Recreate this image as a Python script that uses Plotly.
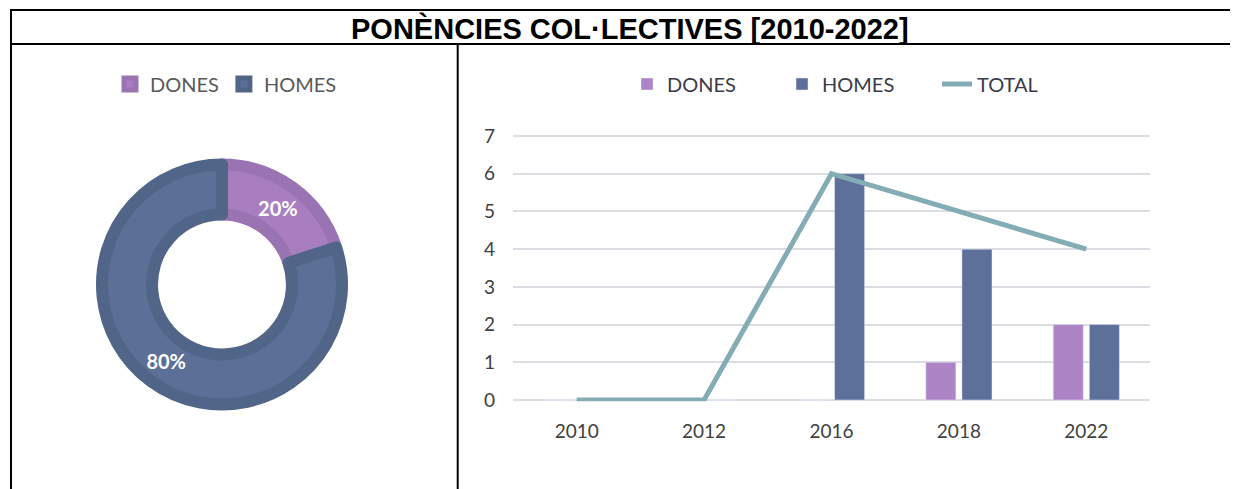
import plotly.graph_objects as go

W, H = 1238, 489
OFF = 8  # page body margin of the exported html

# ---- data ----
years = ["2010", "2012", "2016", "2018", "2022"]
dones = [0, 0, 0, 1, 2]
homes = [0, 0, 6, 4, 2]
total = [0, 0, 6, 5, 4]
pie_labels = ["DONES", "HOMES"]
pie_values = [sum(dones), sum(homes)]
title_text = "PONÈNCIES COL·LECTIVES [2010-2022]"

# ---- styling ----
C_DONES_BAR = "#ad84c5"
C_HOMES_BAR = "#5d7099"
C_TOTAL = "#84acb5"
C_DONES_PIE = "#a97ec1"
C_DONES_PIE_LINE = "#9a74b2"
C_HOMES_PIE = "#5c6f96"
C_HOMES_PIE_LINE = "#506588"


def px(x):
    return (x - OFF) / W


def py(y):
    return 1 - (y - OFF) / H


fig = go.Figure()

# donut
cx, cy, r = 222, 284.5, 120
fig.add_trace(go.Pie(
    labels=pie_labels, values=pie_values, hole=0.583, sort=False,
    direction="clockwise", rotation=0,
    marker=dict(colors=[C_DONES_PIE, C_HOMES_PIE],
                line=dict(color=[C_DONES_PIE_LINE, C_HOMES_PIE_LINE], width=12)),
    texttemplate="%{percent:.0%}", textposition="inside",
    insidetextorientation="horizontal",
    textfont=dict(family="Lato", size=20, color="white", weight="bold"),
    domain=dict(x=[px(cx - r), px(cx + r)], y=[py(cy + r), py(cy - r)]),
    legend="legend", showlegend=True, automargin=False,
))

# bars + line
fig.add_trace(go.Bar(x=years, y=dones, name="DONES", marker_color=C_DONES_BAR,
                     legend="legend2"))
fig.add_trace(go.Bar(x=years, y=homes, name="HOMES", marker_color=C_HOMES_BAR,
                     legend="legend2"))
fig.add_trace(go.Scatter(x=years, y=total, name="TOTAL", mode="lines",
                         line=dict(color=C_TOTAL, width=5), legend="legend2"))

upp = 264 / 7.0  # pixels per unit on the value axis
fig.update_layout(
    width=W, height=H,
    margin=dict(l=0, r=0, t=0, b=0, pad=0, autoexpand=False),
    paper_bgcolor="white", plot_bgcolor="white",
    barmode="group", bargap=0.433, bargroupgap=0.167,
    xaxis=dict(domain=[px(513), px(1150)], type="category",
               showgrid=False, showline=False, zeroline=False, automargin=False,
               ticks="", ticklabelstandoff=17,
               tickfont=dict(family="Lato", size=19, color="#404040")),
    yaxis=dict(domain=[py(400 + 0.03 * upp), py(136 - 0.03 * upp)],
               range=[-0.03, 7.03], tickvals=list(range(0, 8)),
               showgrid=True, gridcolor="#dcdce3", gridwidth=2,
               zeroline=False, showline=False, ticks="", automargin=False,
               ticklabelstandoff=17,
               tickfont=dict(family="Lato", size=19, color="#404040")),
    legend=dict(orientation="h", x=px(226), xanchor="center", y=py(84),
                yanchor="middle", font=dict(family="Lato", size=20, color="#595959"),
                bgcolor="rgba(0,0,0,0)"),
    legend2=dict(orientation="h", x=px(627), xanchor="left", y=py(84),
                 yanchor="middle", font=dict(family="Lato", size=20, color="#3a3a48"),
                 bgcolor="rgba(0,0,0,0)", entrywidth=110, entrywidthmode="pixels"),
    showlegend=True,
)

# frame lines
line_style = dict(color="black", width=2)
fig.add_shape(type="line", xref="paper", yref="paper", x0=px(10), x1=1.02,
              y0=py(10), y1=py(10), line=line_style)
fig.add_shape(type="line", xref="paper", yref="paper", x0=px(10), x1=1.02,
              y0=py(44), y1=py(44), line=line_style)
fig.add_shape(type="line", xref="paper", yref="paper", x0=px(11), x1=px(11),
              y0=py(9), y1=-0.02, line=line_style)
fig.add_shape(type="line", xref="paper", yref="paper", x0=px(457.7), x1=px(457.7),
              y0=py(44), y1=-0.02, line=line_style)

fig.add_annotation(text=title_text, xref="paper", yref="paper",
                   x=px(630), y=py(28), showarrow=False,
                   xanchor="center", yanchor="middle",
                   font=dict(family="Liberation Sans", size=29, color="black",
                             weight="bold"))

fig.write_html("out.html")
